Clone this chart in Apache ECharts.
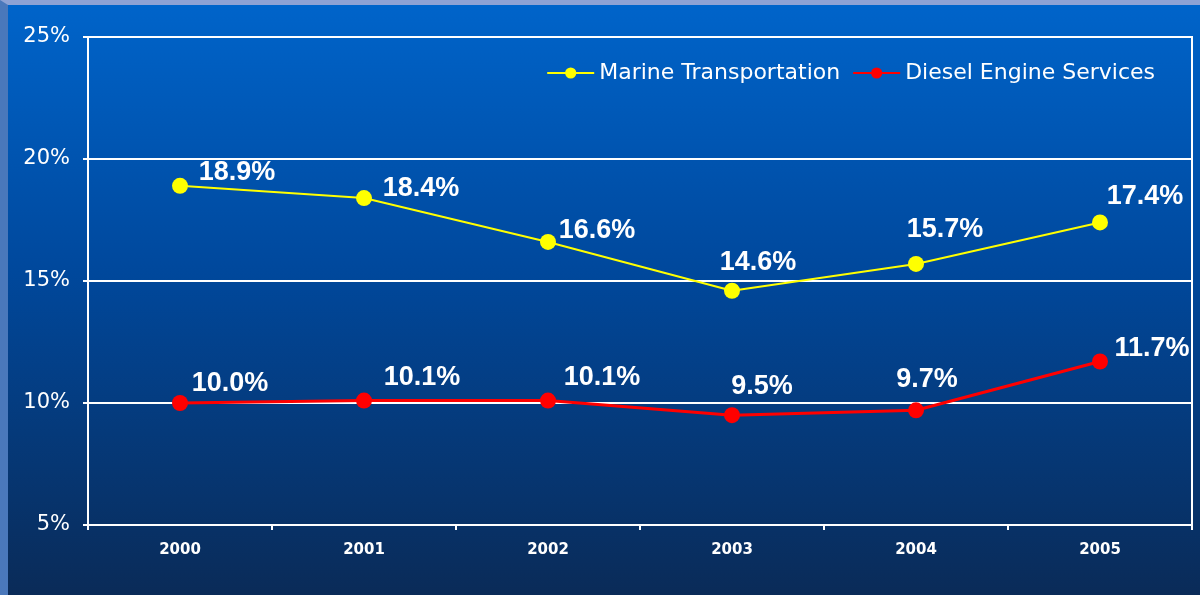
<!DOCTYPE html>
<html>
<head>
<meta charset="utf-8">
<style>
  html, body { margin: 0; padding: 0; background: #7f93c9; }
  #chart {
    position: absolute; left: 0; top: 0;
    width: 1200px; height: 595px;
    box-sizing: border-box;
    border-top: 5px solid #8ea2d4;
    border-left: 8px solid #4a78bb;
  }
</style>
<script src="https://cdn.jsdelivr.net/npm/echarts@6/dist/echarts.min.js"></script>
</head>
<body>
<div id="chart"></div>
<script>
var years = ["2000", "2001", "2002", "2003", "2004", "2005"];
var marine = [18.9, 18.4, 16.6, 14.6, 15.7, 17.4];
var diesel = [10.0, 10.1, 10.1, 9.5, 9.7, 11.7];

// where each value label sits relative to its point
var marineLabelOffsets = [[57, 13], [57, 17], [49, 15], [26, -2], [29, -8], [45, 1]];
var dieselLabelOffsets = [[50, 7], [58, 3], [54, 3], [30, -2], [11, -4], [52, 14]];

function withLabels(values, offsets) {
  return values.map(function (v, i) {
    return { value: v, label: { offset: offsets[i] } };
  });
}

var labelStyle = {
  show: true,
  position: "top",
  color: "#ffffff",
  fontFamily: "Liberation Sans",
  fontWeight: "bold",
  fontSize: 27,
  formatter: function (p) { return p.value.toFixed(1) + "%"; }
};

var myChart = echarts.init(document.getElementById("chart"));
var option = {
  backgroundColor: {
    type: "linear", x: 0, y: 0, x2: 0, y2: 1,
    colorStops: [
      { offset: 0, color: "#0064ca" },
      { offset: 0.45, color: "#00489c" },
      { offset: 1, color: "#0a2b58" }
    ]
  },
  animation: false,
  legend: {
    right: 40,
    top: 52,
    itemWidth: 47,
    itemHeight: 14,
    itemGap: 12,
    textStyle: { color: "#ffffff", fontFamily: "DejaVu Sans", fontSize: 22 },
    data: ["Marine Transportation", "Diesel Engine Services"]
  },
  grid: {
    left: 80, right: 8, top: 32, bottom: 70,
    show: true, borderColor: "#ffffff", borderWidth: 2
  },
  xAxis: {
    type: "category",
    data: years,
    axisLine: { lineStyle: { color: "#ffffff", width: 2 } },
    axisTick: { show: true, length: 5, lineStyle: { color: "#ffffff", width: 2 } },
    axisLabel: {
      color: "#ffffff", fontFamily: "DejaVu Sans", fontWeight: "bold",
      fontSize: 15, margin: 18
    }
  },
  yAxis: {
    type: "value",
    min: 5, max: 25, interval: 5,
    axisLine: { show: true, lineStyle: { color: "#ffffff", width: 2 } },
    axisTick: { show: true, length: 5, lineStyle: { color: "#ffffff", width: 2 } },
    splitLine: { lineStyle: { color: "#ffffff", width: 2 } },
    axisLabel: {
      color: "#ffffff", fontFamily: "DejaVu Sans", fontSize: 21, margin: 18,
      formatter: "{value}%"
    }
  },
  series: [
    {
      name: "Marine Transportation",
      type: "line",
      data: withLabels(marine, marineLabelOffsets),
      symbol: "circle",
      symbolSize: 16,
      itemStyle: { color: "#ffff00" },
      lineStyle: { color: "#ffff00", width: 2 },
      label: labelStyle
    },
    {
      name: "Diesel Engine Services",
      type: "line",
      data: withLabels(diesel, dieselLabelOffsets),
      symbol: "circle",
      symbolSize: 16,
      itemStyle: { color: "#ff0000" },
      lineStyle: { color: "#ff0000", width: 3 },
      label: labelStyle
    }
  ]
};
myChart.setOption(option);
</script>
</body>
</html>
